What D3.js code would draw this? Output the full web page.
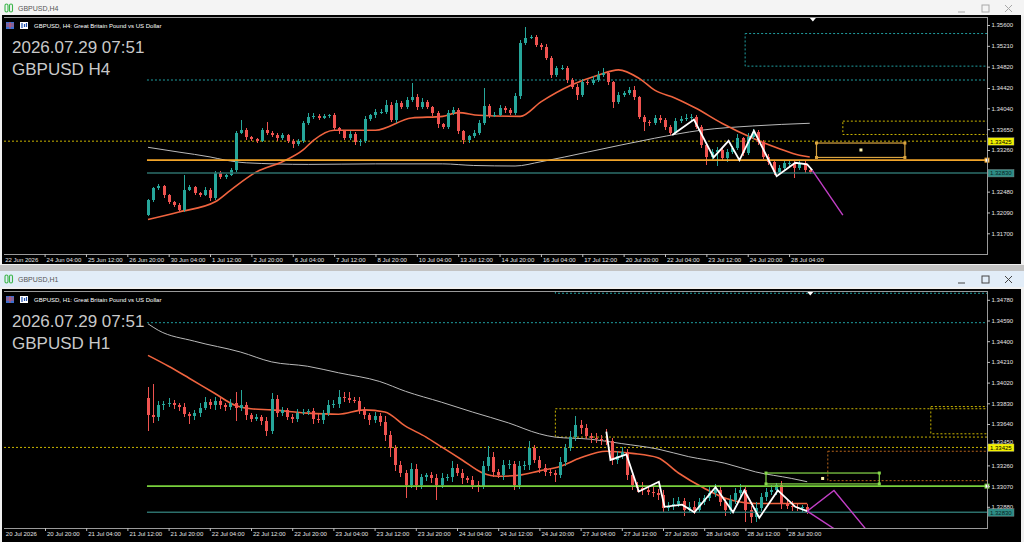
<!DOCTYPE html>
<html>
<head>
<meta charset="UTF-8">
<script src="https://d3js.org/d3.v7.min.js"></script>
<title>GBPUSD H4 / H1</title>
<style>
body{margin:0;background:#f0f0f0;overflow:hidden}
svg{display:block}
text{font-family:"Liberation Sans",Arial,sans-serif}
.ax text{font-size:6px;fill:#e4e4e4}
.ax line{stroke:#bdbdbd}
.ax path{display:none}
</style>
</head>
<body>
<svg width="1024" height="542"></svg>
<script>
// ---- H4 data (bar 0 = first visible candle) ----
const h4Open0 = 1.3204
const h4Close = [1.3232,1.3254,1.3258,1.3241,1.3228,1.3223,1.3213,1.3251,1.3256,1.3245,1.3241,1.3251,1.3236,1.3283,1.3275,1.3279,1.3288,1.3358,1.3363,1.3350,
 1.3346,1.3343,1.3363,1.3358,1.3354,1.3348,1.3354,1.3343,1.3337,1.3343,1.3376,1.3388,1.3389,1.3386,1.3389,1.3391,1.3367,1.3361,1.3348,1.3356,
 1.3341,1.3343,1.3384,1.3391,1.3397,1.3398,1.3410,1.3382,1.3414,1.3406,1.3419,1.3425,1.3406,1.3416,1.3406,1.3395,1.3374,1.3369,1.3395,1.3401,
 1.3361,1.3344,1.3352,1.3358,1.3376,1.3408,1.3391,1.3392,1.3404,1.3401,1.3395,1.3427,1.3526,1.3536,1.3537,1.3523,1.3519,1.3498,1.3466,1.3479,
 1.3480,1.3457,1.3444,1.3429,1.3453,1.3451,1.3457,1.3466,1.3470,1.3453,1.3416,1.3429,1.3433,1.3438,1.3425,1.3388,1.3378,1.3376,1.3386,1.3382,
 1.3369,1.3358,1.3380,1.3384,1.3386,1.3388,1.3369,1.3335,1.3313,1.3322,1.3326,1.3311,1.3322,1.3329,1.3348,1.3320,1.3350,1.3359,1.3341,1.3313,
 1.3303,1.3284,1.3292,1.3301,1.3302,1.3292,1.3301,1.3288,1.3284]
// wick length beyond the body, in pips
const h4WickUp = [2,3,4,2,3,2,3,28,4,3,2,5,3,4,3,2,4,3,19,4,3,2,5,15,3,4,3,2,3,4,5,8,6,4,5,3,4,2,3,5,
 3,4,6,3,5,4,9,5,6,4,7,26,5,8,4,3,4,3,6,5,4,3,2,5,6,34,4,5,6,4,3,5,6,20,5,4,3,6,4,5,
 6,3,4,5,6,4,7,8,10,4,3,5,4,6,8,3,4,5,6,5,4,3,6,5,7,6,4,3,4,5,6,3,5,4,7,3,8,6,4,3,
 5,4,6,7,5,4,6,5,3]
const h4WickDn = [2,3,2,4,3,4,4,3,2,4,3,2,5,3,4,3,2,4,3,5,4,3,2,4,3,5,3,4,8,3,4,3,4,3,2,4,5,6,4,3,
 5,8,4,3,5,3,4,4,5,3,4,3,6,4,3,5,6,4,3,4,5,6,4,3,4,3,5,4,3,6,4,3,5,4,3,4,5,4,6,4,
 3,5,4,10,4,3,4,3,4,5,12,4,3,4,5,4,17,6,4,5,6,4,3,4,3,5,4,6,15,5,26,4,8,4,3,5,4,3,5,4,
 6,5,4,3,6,19,4,5,3]
const h4RedMaAt = [0,6,13,16,21,26,30,32,36,44,51,57,60,64,72,76,82,87,91,95,98,102,106,111,117,122,126,128]
const h4RedMa = [1.3196,1.3210,1.3229,1.3251,1.3285,1.3304,1.3326,1.3344,1.3363,1.3363,1.3386,1.3389,1.3396,1.3391,1.3389,1.3416,1.3448,1.3466,1.3476,1.3460,1.3438,1.3423,1.3404,1.3376,1.3348,1.3329,1.3316,1.3313]
const h4GrayMaAt = [0,6,12,15,19,31,44,57,63,71,76,85,98,107,117,128]
const h4GrayMa = [1.3331,1.3322,1.3313,1.3307,1.3302,1.3299,1.3300,1.3300,1.3297,1.3296,1.3304,1.3322,1.3348,1.3363,1.3371,1.3376]
const h4ZigAt = [101.4,105.6,109.4,112.3,114.4,117.2,121.6,125.2,127.5,128.5]
const h4Zig = [1.3354,1.3383,1.3312,1.3343,1.3307,1.3362,1.3277,1.3302,1.3299,1.3288]
const h4ProjAt = [128.5,134.4]
const h4Proj = [1.3288,1.3204]
const h4PriceTicks = [1.356,1.3521,1.3482,1.3442,1.3404,1.3365,1.3326,1.3248,1.3209,1.317]
const h4Dates = ["22 Jun 2026","24 Jun 04:00","25 Jun 12:00","26 Jun 20:00","30 Jun 04:00","1 Jul 12:00","2 Jul 20:00","6 Jul 04:00","7 Jul 12:00","8 Jul 20:00",
 "10 Jul 04:00","13 Jul 12:00","14 Jul 20:00","16 Jul 04:00","17 Jul 12:00","20 Jul 20:00","22 Jul 04:00","23 Jul 12:00","24 Jul 20:00","28 Jul 04:00"]

// ---- H1 data ----
const h1Open0 = 1.3388
const h1Close = [1.3372,1.3370,1.3381,1.3382,1.3383,1.3381,1.3380,1.3373,1.3371,1.3374,1.3379,1.3384,1.3381,1.3385,1.3381,1.3380,1.3383,1.3379,1.3381,1.3372,
 1.3369,1.3370,1.3367,1.3358,1.3387,1.3374,1.3377,1.3370,1.3369,1.3374,1.3375,1.3376,1.3369,1.3368,1.3374,1.3381,1.3382,1.3389,1.3388,1.3386,
 1.3385,1.3377,1.3372,1.3368,1.3371,1.3366,1.3354,1.3342,1.3326,1.3319,1.3308,1.3323,1.3308,1.3315,1.3317,1.3314,1.3308,1.3314,1.3315,1.3324,
 1.3319,1.3314,1.3313,1.3308,1.3307,1.3325,1.3334,1.3320,1.3317,1.3326,1.3327,1.3308,1.3325,1.3326,1.3342,1.3331,1.3324,1.3320,1.3319,1.3317,
 1.3329,1.3342,1.3352,1.3363,1.3360,1.3353,1.3351,1.3350,1.3349,1.3348,1.3331,1.3335,1.3338,1.3317,1.3308,1.3305,1.3303,1.3302,1.3301,1.3299,
 1.3287,1.3289,1.3291,1.3293,1.3285,1.3288,1.3285,1.3292,1.3296,1.3301,1.3303,1.3292,1.3285,1.3294,1.3301,1.3303,1.3285,1.3279,1.3287,1.3297,
 1.3302,1.3303,1.3308,1.3291,1.3289,1.3288,1.3287,1.3288,1.3284]
const h1WickUp = [10,29,4,3,5,3,2,3,2,3,4,5,3,4,3,2,4,10,14,3,2,3,2,3,5,4,3,2,3,4,3,2,3,4,3,5,4,6,4,5,
 3,4,3,2,4,3,5,4,3,4,3,5,4,3,2,3,4,5,3,6,3,4,2,3,4,5,10,4,3,5,4,3,5,4,6,3,4,3,4,3,
 5,4,6,8,5,4,3,5,4,10,3,4,5,3,4,3,6,3,4,3,4,3,5,4,3,4,5,4,3,5,6,4,3,5,4,6,3,4,5,4,
 3,5,2,4,3,4,3,2,3]
const h1WickDn = [14,5,3,4,2,3,4,3,7,3,4,2,3,4,3,4,3,12,3,4,3,2,4,5,3,4,3,2,4,3,2,3,5,3,4,3,2,3,4,3,
 2,4,3,5,3,4,6,8,5,4,12,3,5,4,3,4,14,3,2,4,3,5,3,4,5,3,4,5,3,4,3,5,4,3,4,3,5,4,3,6,
 3,4,3,4,5,3,4,3,4,3,5,4,3,4,5,3,4,3,4,5,4,3,4,3,5,3,4,3,2,3,4,3,5,4,3,4,11,6,5,3,
 4,3,4,5,3,4,3,4,3]
const h1RedMaAt = [0,4,8,13,17,20,24,31,37,42,46,50,54,57,61,65,68,72,76,80,84,89,94,99,103,108,112,118,123,128]
const h1RedMa = [1.3427,1.3417,1.3406,1.3392,1.3381,1.3378,1.3377,1.3374,1.3373,1.3377,1.3375,1.3362,1.3352,1.3343,1.3331,1.3319,1.3316,1.3317,1.3321,1.3325,1.3333,1.3339,1.3337,1.3333,1.3319,1.3305,1.3296,1.3291,1.3291,1.3291]
const h1GrayMaAt = [0,2,9,18,24,31,37,45,50,57,63,70,76,79,86,92,99,105,112,118,125,128]
const h1GrayMa = [1.3456,1.3450,1.3440,1.3430,1.3421,1.3417,1.3411,1.3403,1.3394,1.3384,1.3375,1.3365,1.3355,1.3352,1.3350,1.3346,1.3341,1.3334,1.3328,1.3320,1.3314,1.3311]
const h1ZigAt = [89.0,89.8,92.9,95.3,99.2,100.3,103.7,106.1,110.2,113.6,115.8,118.7,122.3,125.7,128]
const h1Zig = [1.3357,1.3331,1.3336,1.3302,1.3311,1.3288,1.3290,1.3283,1.3306,1.3283,1.3303,1.3278,1.3303,1.3288,1.3284]
const h1ProjUpAt = [128,133.2,139.3]
const h1ProjUp = [1.3284,1.3303,1.3268]
const h1ProjDnAt = [128,133.5]
const h1ProjDn = [1.3284,1.3267]
const h1PriceTicks = [1.3478,1.3459,1.344,1.3421,1.3402,1.3383,1.3364,1.3345,1.3326,1.3307,1.3288]
const h1Dates = ["20 Jul 2026","20 Jul 20:00","21 Jul 04:00","21 Jul 12:00","21 Jul 20:00","22 Jul 04:00","22 Jul 12:00","22 Jul 20:00","23 Jul 04:00","23 Jul 12:00",
 "23 Jul 20:00","24 Jul 04:00","24 Jul 12:00","24 Jul 20:00","27 Jul 04:00","27 Jul 12:00","27 Jul 20:00","28 Jul 04:00","28 Jul 12:00","28 Jul 20:00"]

// shared levels
const lvlTeal = 1.3283, lvlMain = 1.3307, lvlYellow = 1.33425, lvlTealDot = 1.3457
const stamp = "2026.07.29 07:51"

const svg = d3.select("svg")
const bull = "#26a69a", bear = "#ef5350"

function windowChrome(y0, title, active){
  svg.append("rect").attr("x",0).attr("y",y0).attr("width",1024).attr("height",16).attr("fill",active ? "#e2edf8" : "#f4f4f4")
  const ic = svg.append("g").attr("stroke","#3bb54a").attr("fill","none").attr("stroke-width",1.1)
  ic.append("rect").attr("x",5).attr("y",y0+4).attr("width",3).attr("height",8).attr("rx",1.5)
  ic.append("rect").attr("x",9.5).attr("y",y0+4).attr("width",3).attr("height",8).attr("rx",1.5)
  svg.append("text").attr("x",18).attr("y",y0+11).attr("font-size",7).attr("fill","#555").text(title)
  const bc = active ? "#444" : "#a8a8a8"
  svg.append("line").attr("x1",958).attr("x2",965).attr("y1",y0+12).attr("y2",y0+12).attr("stroke",bc)
  svg.append("rect").attr("x",982).attr("y",y0+5).attr("width",7).attr("height",7).attr("fill","none").attr("stroke",bc)
  svg.append("path").attr("d",`M1005,${y0+5}l7,7M1012,${y0+5}l-7,7`).attr("stroke",bc)
}

function drawChart(o){
  const {top, bottom, x, y} = o
  const left = 4, right = 987
  svg.append("rect").attr("x",2).attr("y",top-2).attr("width",1019).attr("height",o.blackH).attr("fill","#000")
  const cid = "clip" + top
  svg.append("clipPath").attr("id",cid).append("rect").attr("x",left).attr("y",top).attr("width",right-left).attr("height",bottom-top)
  const g = svg.append("g").attr("clip-path",`url(#${cid})`)

  // dotted boxes and levels
  o.boxes.forEach(b => {
    const x1 = x(b.from), x2 = b.to == null ? right + 2 : x(b.to)
    g.append("rect").attr("x",x1).attr("y",y(b.hi)).attr("width",x2-x1).attr("height",y(b.lo)-y(b.hi))
      .attr("fill","none").attr("stroke",b.color).attr("stroke-dasharray","2,2")
  })
  g.append("line").attr("x1",left).attr("x2",right).attr("y1",y(lvlYellow)).attr("y2",y(lvlYellow))
    .attr("stroke","#c8b400").attr("stroke-dasharray","2,2")
  g.append("line").attr("x1",x(-0.2)).attr("x2",right).attr("y1",y(lvlTealDot)).attr("y2",y(lvlTealDot))
    .attr("stroke","#1f9ea0").attr("stroke-dasharray","2,2")

  // moving averages
  const line = d3.line().x(d => x(d[0])).y(d => y(d[1])).curve(d3.curveMonotoneX)
  g.append("path").attr("d",line(d3.zip(o.grayAt,o.gray))).attr("fill","none").attr("stroke","#b9b9b9").attr("stroke-width",1)
  g.append("path").attr("d",line(d3.zip(o.redAt,o.red))).attr("fill","none").attr("stroke","#f0643f").attr("stroke-width",1.6)

  // candles
  const bars = o.close.map((c,i) => {
    const op = i ? o.close[i-1] : o.open0
    return {i, op, c, hi: Math.max(op,c) + o.up[i]*1e-4, lo: Math.min(op,c) - o.dn[i]*1e-4}
  })
  const cg = g.append("g").attr("shape-rendering","crispEdges")
  cg.selectAll("line").data(bars).join("line")
    .attr("x1",d => Math.round(x(d.i))+0.5).attr("x2",d => Math.round(x(d.i))+0.5)
    .attr("y1",d => y(d.hi)).attr("y2",d => y(d.lo))
    .attr("stroke",d => d.c >= d.op ? bull : bear)
  cg.selectAll("rect").data(bars).join("rect")
    .attr("x",d => Math.round(x(d.i))-1).attr("width",3)
    .attr("y",d => y(Math.max(d.op,d.c)))
    .attr("height",d => Math.max(1, y(Math.min(d.op,d.c)) - y(Math.max(d.op,d.c))))
    .attr("fill",d => d.c >= d.op ? bull : bear)

  // solid levels
  g.append("line").attr("x1",x(-0.2)).attr("x2",right).attr("y1",y(lvlTeal)).attr("y2",y(lvlTeal)).attr("stroke","#2c6f6b").attr("stroke-width",1.4)
  g.append("line").attr("x1",x(-0.2)).attr("x2",right).attr("y1",y(lvlMain)).attr("y2",y(lvlMain)).attr("stroke",o.mainColor).attr("stroke-width",1.8)

  // selected rectangle with handles
  const s = o.sel
  g.append("rect").attr("x",x(s.from)).attr("y",y(s.hi)).attr("width",x(s.to)-x(s.from)).attr("height",y(s.lo)-y(s.hi))
    .attr("fill","none").attr("stroke",s.color).attr("stroke-width",1.2)
  const hs = [[s.from,s.hi],[s.to,s.hi],[s.from,s.lo],[s.to,s.lo],[s.midAt,s.mid]]
  g.selectAll("rect.h").data(hs).join("rect").attr("class","h")
    .attr("x",d => x(d[0])-1.5).attr("y",d => y(d[1])-1.5).attr("width",3).attr("height",3)
    .attr("fill",(d,i) => i == 4 ? "#fff6b0" : s.color)

  // zigzag + projections
  g.append("path").attr("d",d3.line().x(d => x(d[0])).y(d => y(d[1]))(d3.zip(o.zigAt,o.zig)))
    .attr("fill","none").attr("stroke","#ffffff").attr("stroke-width",1.8)
  o.proj.forEach(p => g.append("path").attr("d",d3.line().x(d => x(d[0])).y(d => y(d[1]))(p))
    .attr("fill","none").attr("stroke","#c23fc6").attr("stroke-width",1.4))

  // end marker on main level
  svg.append("rect").attr("x",right-2).attr("y",y(lvlMain)-2).attr("width",4).attr("height",4).attr("fill","#fff").attr("stroke",o.mainColor)

  // frame
  svg.append("path").attr("d",`M${left},${top}H${right}V${bottom}H${left}`).attr("fill","none").attr("stroke","#9a9a9a").attr("shape-rendering","crispEdges")
  // shift marker
  svg.append("path").attr("d",`M${x(128.6)-3},${top+1}h6l-3,3.5z`).attr("fill","#fff")

  // axes
  const ya = svg.append("g").attr("class","ax").attr("transform",`translate(${right},0)`)
    .call(d3.axisRight(y).tickValues(o.priceTicks).tickSize(3).tickPadding(1.5).tickFormat(d3.format(".5f")))
  // a label sitting right on the yellow tag peeks out above it, as in the terminal
  ya.selectAll(".tick text").filter(d => Math.abs(y(d) - y(lvlYellow)) < 6).attr("dy","-0.2em")
  const tb = o.dates.map((d,i) => -28 + i*8)
  const xa = svg.append("g").attr("class","ax").attr("transform",`translate(0,${bottom})`)
    .call(d3.axisBottom(x).tickValues(tb).tickSize(3).tickFormat((d,i) => o.dates[i]))
  xa.selectAll("text").attr("text-anchor","start").attr("dx",1.5).attr("dy","0.25em")
  xa.select(".tick line").attr("display","none")

  // price tags
  const tag = (v, bg, fg) => {
    const ty = y(v)
    svg.append("rect").attr("x",988).attr("y",ty-3.5).attr("width",26).attr("height",7.5).attr("fill",bg).attr("stroke","#888").attr("stroke-width",0.4)
    svg.append("text").attr("x",990).attr("y",ty+2.4).attr("font-size",6).attr("fill",fg).text(d3.format(".5f")(v))
  }
  tag(lvlYellow, "#f2f000", "#000")
  tag(lvlTeal, "#2e8c85", "#06221f")

  // header + stamp
  const hy = top + 11
  svg.append("rect").attr("x",6).attr("y",hy-6).attr("width",8).attr("height",7).attr("fill","#3a6fd0")
  svg.append("path").attr("d",`M6,${hy-4}h8M6,${hy-2}h8M10,${hy-6}v7`).attr("stroke","#e85050").attr("stroke-width",0.8)
  svg.append("rect").attr("x",20).attr("y",hy-6).attr("width",8).attr("height",7).attr("fill","#fff")
  svg.append("path").attr("d",`M22,${hy-5}v5M24.5,${hy-4}v3M26.5,${hy-5}v4`).attr("stroke","#2050b0").attr("stroke-width",1.2)
  svg.append("text").attr("x",34).attr("y",hy).attr("font-size",6).attr("fill","#fff").text(o.header)
  svg.append("text").attr("x",12).attr("y",top+36).attr("font-size",17).attr("fill","#c9c9c9").text(stamp)
  svg.append("text").attr("x",12).attr("y",top+58).attr("font-size",17).attr("fill","#c9c9c9").text(o.sym)
}

// ---- layout ----
windowChrome(0, "GBPUSD,H4", false)
svg.append("rect").attr("x",0).attr("y",265).attr("width",1024).attr("height",6).attr("fill","#c3c3c3")
windowChrome(271, "GBPUSD,H1", true)

const xH4 = d3.scaleLinear().domain([0,128]).range([148, 148 + 128*5.17])
const yH4 = d3.scaleLinear().domain([1.317,1.356]).range([233.3,25])
drawChart({top:17, bottom:254, blackH:249, x:xH4, y:yH4,
  open0:h4Open0, close:h4Close, up:h4WickUp, dn:h4WickDn,
  redAt:h4RedMaAt, red:h4RedMa, grayAt:h4GrayMaAt, gray:h4GrayMa,
  zigAt:h4ZigAt, zig:h4Zig, proj:[d3.zip(h4ProjAt,h4Proj)],
  priceTicks:h4PriceTicks, dates:h4Dates, mainColor:"#f2a52a",
  boxes:[{from:115.5, hi:1.3544, lo:1.3483, color:"#1f9ea0"},
         {from:134.4, hi:1.3380, lo:1.3355, color:"#c8b400"}],
  sel:{from:129.3, to:146.4, hi:1.3339, lo:1.3312, midAt:137.9, mid:1.3326, color:"#d9a441"},
  header:"GBPUSD, H4:  Great Britain Pound vs US Dollar", sym:"GBPUSD H4"})

const xH1 = d3.scaleLinear().domain([0,128]).range([148, 148 + 128*5.15])
const yH1 = d3.scaleLinear().domain([1.3288,1.3478]).range([506.8,299.8])
drawChart({top:291, bottom:528, blackH:253, x:xH1, y:yH1,
  open0:h1Open0, close:h1Close, up:h1WickUp, dn:h1WickDn,
  redAt:h1RedMaAt, red:h1RedMa, grayAt:h1GrayMaAt, gray:h1GrayMa,
  zigAt:h1ZigAt, zig:h1Zig, proj:[d3.zip(h1ProjUpAt,h1ProjUp), d3.zip(h1ProjDnAt,h1ProjDn)],
  priceTicks:h1PriceTicks, dates:h1Dates, mainColor:"#78d03c",
  boxes:[{from:79.1, hi:1.3544, lo:1.3484, color:"#1f9ea0"},
         {from:79.1, hi:1.3378, lo:1.3352, color:"#c8b400"},
         {from:152, hi:1.3380, lo:1.3355, color:"#c8b400"},
         {from:132, hi:1.3339, lo:1.3312, color:"#b8661c"}],
  sel:{from:120, to:142, hi:1.3319, lo:1.3309, midAt:131, mid:1.3314, color:"#86d84a"},
  header:"GBPUSD, H1:  Great Britain Pound vs US Dollar", sym:"GBPUSD H1"})
</script>
</body>
</html>
